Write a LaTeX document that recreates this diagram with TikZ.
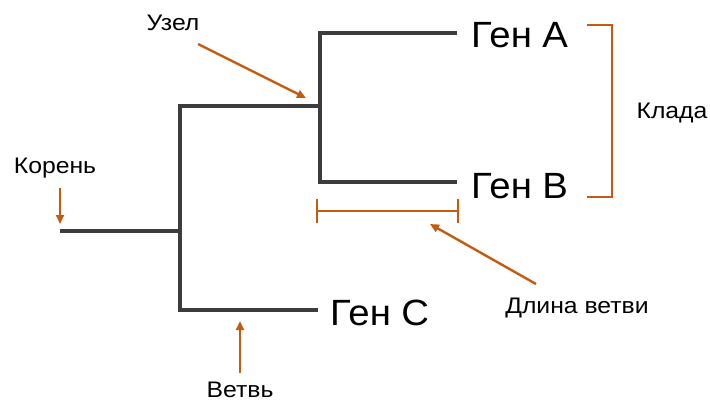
\documentclass[tikz,border=0pt]{standalone}
\usepackage{fontspec}
\setmainfont{Liberation Sans}
\newfontfamily\notefont[FakeStretch=1.1]{Liberation Sans}
\newfontfamily\genefont[FakeStretch=1.05]{Liberation Sans}
\usetikzlibrary{arrows.meta}
\definecolor{treegray}{HTML}{3C3C3C}
\definecolor{accent}{HTML}{C55A11}
\begin{document}
\begin{tikzpicture}[x=1pt,y=-1pt,
  treeline/.style={draw=treegray,line width=4pt,line cap=butt,line join=miter},
  pointer/.style={draw=accent,line width=2.4pt,-{Triangle[length=9pt,width=8pt]}},
  marker/.style={draw=accent,line width=2pt},
  gene/.style={font=\genefont\fontsize{36.5}{40}\selectfont,anchor=base west,inner sep=0pt},
  note/.style={font=\notefont\fontsize{22.5}{26}\selectfont,anchor=base,inner sep=0pt}]
\useasboundingbox (0,0) rectangle (710,405);
\fill[white] (0,0) rectangle (710,405);

% tree skeleton
\coordinate (root) at (60,231);
\coordinate (n1) at (180,231);
\coordinate (n1top) at (180,106);
\coordinate (n1bot) at (180,310);
\coordinate (n2) at (320,106);
\coordinate (n2top) at (320,33);
\coordinate (n2bot) at (320,182);
\coordinate (tipA) at (457,33);
\coordinate (tipB) at (457,182);
\coordinate (tipC) at (318,310);

\draw[treeline] (root) -- (n1);
\draw[treeline] (n2) -| (n1top) -- (n1bot) -- (tipC);
\draw[treeline] (tipA) -| (n2top) -- (n2bot) -- (tipB);

% leaf labels
\node[gene] (ga) at (471,47) {Ген A};
\node[gene] (gb) at (471,198) {Ген B};
\node[gene] (gc) at (330,325) {Ген C};

% clade bracket
\coordinate (brt) at (587,25);
\coordinate (brb) at (587,197);
\draw[marker] (brt) -- (612,25) -- (612,197) -- (brb);
\node[note] (clade) at (672,118) {Клада};

% branch-length bar
\coordinate (bl) at (317,211);
\coordinate (br) at (458,211);
\draw[marker] (bl) -- (br);
\draw[marker] ([yshift=-12pt]bl) -- ([yshift=12pt]bl);
\draw[marker] ([yshift=-12pt]br) -- ([yshift=12pt]br);

% annotations
\node[note] (root label) at (55,173) {Корень};
\coordinate (rootarr) at (60,224);
\draw[pointer] (60,188) -- (rootarr);

\node[note] (node label) at (173,30) {Узел};
\coordinate (nodearr) at (306,98);
\draw[pointer] (198,44) -- (nodearr);

\node[note] (branch label) at (240,397) {Ветвь};
\coordinate (brarr) at (240,321);
\draw[pointer] (240,373) -- (brarr);

\node[note] (len label) at (577,313) {Длина ветви};
\coordinate (lenarr) at (430,224);
\draw[pointer] (536,284) -- (lenarr);
\end{tikzpicture}
\end{document}
